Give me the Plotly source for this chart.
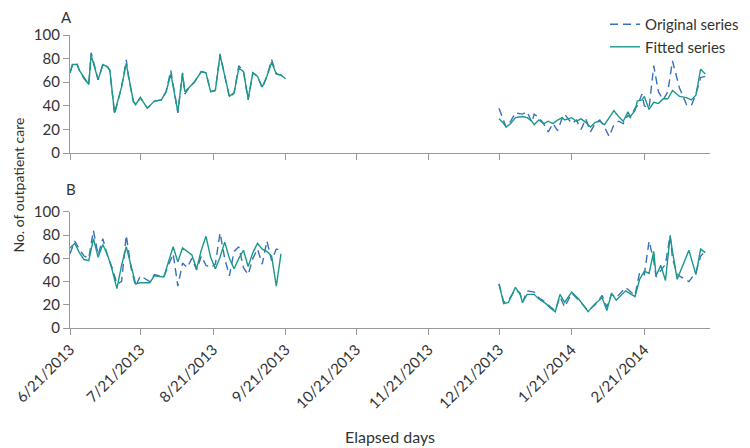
import pandas as pd
import plotly.graph_objs as go

# days counted from the start of each segment
left_start = '2013-06-21'
right_start = '2013-12-21'

a_left_days = [0, 1, 3, 4, 6, 8, 9, 12, 14, 16, 17, 19, 22, 24, 25, 27, 28, 30, 33, 36,
               39, 41, 43, 46, 48, 49, 51, 53, 56, 58, 60, 62, 64, 66, 68, 70, 72, 74, 76, 78,
               80, 82, 84, 86, 88, 90, 92]
a_left_fit = [68, 75, 75, 70, 64, 58, 83, 62, 75, 73, 70, 34, 56, 76, 65, 44, 41, 47, 38, 44,
              45, 52, 67, 35, 67, 52, 56, 60, 69, 68, 52, 53, 83, 66, 48, 51, 72, 69, 46, 68,
              65, 56, 65, 77, 67, 66, 63]
a_left_orig = [68, 74, 76, 70, 63, 58, 85, 62, 75, 73, 70, 33, 56, 79, 64, 44, 41, 47, 38, 44,
               45, 52, 70, 34, 68, 50, 56, 60, 69, 68, 52, 53, 84, 65, 47, 51, 74, 69, 45, 68,
               65, 55, 65, 79, 67, 66, 63]

a_right_days = [0, 2, 3, 5, 7, 10, 12, 14, 15, 17, 19, 21, 23, 25, 27, 28, 31, 33, 35, 37,
                39, 41, 43, 45, 47, 49, 51, 53, 55, 56, 58, 59, 61, 62, 64, 66, 68, 70, 72, 74,
                77, 80, 82, 84, 86, 88]
a_right_fit = [29, 25, 22, 25, 30, 31, 30, 27, 24, 28, 25, 27, 25, 28, 30, 28, 30, 27, 29, 26,
               22, 26, 27, 24, 30, 36, 31, 27, 35, 31, 36, 44, 45, 48, 37, 43, 42, 46, 46, 53,
               48, 47, 45, 49, 71, 67]
a_right_orig = [38, 27, 22, 27, 34, 33, 35, 26, 33, 30, 25, 18, 25, 19, 30, 33, 25, 28, 20, 29,
                18, 25, 28, 22, 14, 24, 27, 25, 32, 30, 38, 40, 50, 40, 38, 74, 52, 45, 52, 78,
                55, 41, 40, 50, 64, 65]

b_left_days = [0, 2, 4, 6, 8, 10, 12, 14, 16, 18, 20, 22, 24, 26, 28, 30, 34, 36, 40, 44,
               46, 48, 50, 52, 54, 56, 58, 60, 62, 64, 66, 68, 70, 72, 74, 76, 78, 80, 82, 84,
               86, 88, 90]
b_left_fit = [69, 73, 65, 59, 58, 77, 61, 72, 63, 50, 34, 54, 70, 54, 38, 39, 39, 45, 44, 70,
              57, 69, 66, 63, 51, 67, 79, 61, 51, 61, 74, 60, 51, 60, 67, 53, 65, 73, 68, 66,
              62, 36, 64]
b_left_orig = [64, 75, 68, 62, 60, 84, 63, 77, 62, 52, 38, 40, 80, 52, 36, 45, 40, 46, 44, 64,
               36, 56, 52, 60, 50, 62, 54, 52, 55, 82, 60, 45, 66, 70, 52, 46, 60, 68, 55, 75,
               58, 68, 67]

b_right_days = [0, 2, 4, 7, 9, 10, 12, 15, 17, 20, 22, 24, 26, 28, 31, 34, 38, 41, 44, 46,
                48, 50, 54, 58, 60, 62, 64, 66, 67, 69, 71, 73, 74, 76, 81, 84, 86, 88]
b_right_fit = [38, 21, 22, 35, 29, 22, 29, 29, 25, 21, 17, 14, 29, 22, 31, 25, 14, 21, 26, 15,
               30, 24, 32, 27, 42, 49, 47, 66, 45, 54, 41, 79, 66, 42, 67, 46, 68, 65]
b_right_orig = [38, 22, 24, 33, 30, 22, 32, 31, 26, 22, 18, 15, 27, 18, 30, 24, 15, 20, 28, 18,
                29, 26, 35, 28, 48, 46, 75, 58, 44, 50, 55, 80, 60, 46, 40, 48, 62, 66]

month_ticks = ['2013-06-21', '2013-07-21', '2013-08-21', '2013-09-21', '2013-10-21',
               '2013-11-21', '2013-12-21', '2014-01-21', '2014-02-21']
month_labels = ['6/21/2013', '7/21/2013', '8/21/2013', '9/21/2013', '10/21/2013',
                '11/21/2013', '12/21/2013', '1/21/2014', '2/21/2014']

BLUE = '#3a6fba'
TEAL = '#1b9988'
FONT = 'Lato'
TXT = '#333'


def to_dates(start, days):
    return list(pd.Timestamp(start) + pd.to_timedelta(days, unit='D'))


def joined(left_days, left_vals, right_days, right_vals):
    x = to_dates(left_start, left_days) + [None] + to_dates(right_start, right_days)
    y = list(left_vals) + [None] + list(right_vals)
    return x, y


def series(x, y, name, color, dash, xa, ya, legend):
    return go.Scatter(x=x, y=y, mode='lines', name=name, xaxis=xa, yaxis=ya,
                      line=dict(color=color, width=1.4, dash=dash),
                      showlegend=legend, connectgaps=False)


def label(text, x, y, size, angle=0):
    return dict(text=text, xref='paper', yref='paper', x=x, y=y,
                xanchor='center', yanchor='middle', textangle=angle,
                showarrow=False, font=dict(size=size, color=TXT))


traces = []
x, y = joined(a_left_days, a_left_orig, a_right_days, a_right_orig)
traces.append(series(x, y, 'Original series', BLUE, '8px,5px', 'x', 'y', True))
x, y = joined(a_left_days, a_left_fit, a_right_days, a_right_fit)
traces.append(series(x, y, 'Fitted series', TEAL, 'solid', 'x', 'y', True))
x, y = joined(b_left_days, b_left_orig, b_right_days, b_right_orig)
traces.append(series(x, y, 'Original series', BLUE, '8px,5px', 'x2', 'y2', False))
x, y = joined(b_left_days, b_left_fit, b_right_days, b_right_fit)
traces.append(series(x, y, 'Fitted series', TEAL, 'solid', 'x2', 'y2', False))

x_common = dict(type='date', range=['2013-06-21', '2014-03-21'],
                tickvals=month_ticks, ticktext=month_labels,
                showline=True, linecolor='#999', linewidth=1.3,
                ticks='outside', ticklen=6, tickcolor='#999',
                showgrid=False, zeroline=False, automargin=False)
y_common = dict(range=[0, 100], tickvals=[0, 20, 40, 60, 80, 100],
                showline=True, linecolor='#999', linewidth=1.3,
                ticks='outside', ticklen=6, tickcolor='#999',
                showgrid=False, zeroline=False, automargin=False,
                tickfont=dict(size=15, color=TXT))

# page body has an 8px margin, so the figure is shrunk by that much
layout = go.Layout(
    width=742, height=440,
    margin=dict(l=62, r=40, t=27, b=120, autoexpand=False),
    plot_bgcolor='white', paper_bgcolor='white',
    font=dict(family=FONT, size=15, color=TXT),
    xaxis=dict(x_common, domain=[0, 1], anchor='y', showticklabels=False),
    xaxis2=dict(x_common, domain=[0, 1], anchor='y2', tickangle=-45,
                tickfont=dict(size=15, color=TXT)),
    yaxis=dict(y_common, domain=[0.597, 1], anchor='x'),
    yaxis2=dict(y_common, domain=[0, 0.396], anchor='x2'),
    legend=dict(x=0.836, y=1.092, xanchor='left', yanchor='top',
                bgcolor='rgba(0,0,0,0)', tracegroupgap=0,
                font=dict(size=15, color=TXT)),
    annotations=[
        label('A', -0.006, 1.06, 15),
        label('B', 0.001, 0.474, 15),
        label('No. of outpatient care', -0.082, 0.488, 14, -90),
        label('Elapsed days', 0.5, -0.372, 16),
    ],
)

fig = go.Figure(data=traces, layout=layout)
fig.write_html("out.html")
